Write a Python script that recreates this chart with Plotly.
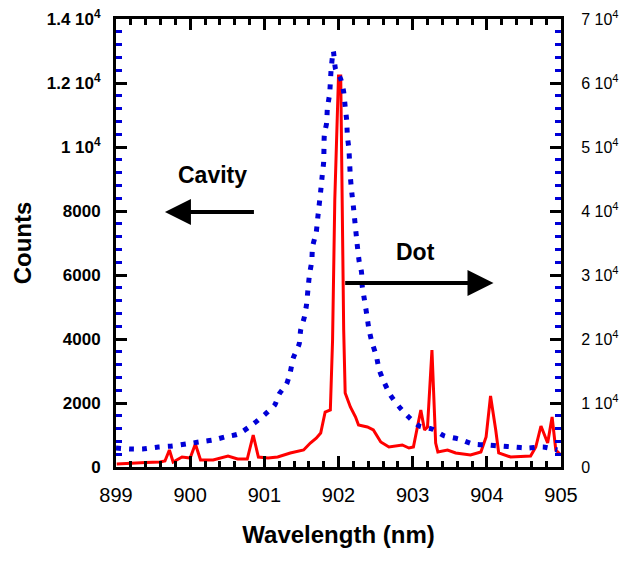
import plotly.graph_objects as go

# Cavity spectrum (left axis, counts)
cavity_wl = [899.0, 899.19, 899.36, 899.57, 899.76, 899.95, 900.12, 900.31, 900.47, 900.65,
             900.85, 901.00, 901.14, 901.20, 901.30, 901.35, 901.39, 901.47, 901.49, 901.54,
             901.57, 901.59, 901.61, 901.64, 901.65, 901.70, 901.72, 901.76, 901.78, 901.80,
             901.81, 901.84, 901.85, 901.88, 901.90, 901.93,
             901.96, 902.03, 902.07, 902.09, 902.11, 902.12, 902.14, 902.15, 902.16, 902.18,
             902.20, 902.22, 902.25, 902.28, 902.31, 902.32, 902.35, 902.38, 902.41, 902.45,
             902.51, 902.55, 902.62, 902.70, 902.82, 902.96, 903.09, 903.26, 903.43, 903.62,
             903.81, 904.00, 904.19, 904.36, 904.55, 904.76, 904.95]
cavity_counts = [594, 562, 562, 625, 656, 719, 781, 844, 938, 1031,
                 1344, 1625, 1937, 2281, 2594, 2969, 3406, 3844, 4281, 4688,
                 5094, 5594, 6031, 6438, 6875, 7344, 7781, 8625, 9094, 9531,
                 10406, 10750, 11219, 11656, 12400, 13000,
                 12437, 12125, 11719, 11250, 10844, 10344, 9937, 9500, 9062, 8562,
                 8156, 7687, 7000, 6406, 6094, 5656, 5219, 4781, 4312, 3906,
                 3469, 3031, 2625, 2250, 1875, 1531, 1281, 1187, 969, 875,
                 719, 687, 656, 625, 594, 625, 531]

# Dot spectrum (right axis, counts)
dot_wl = [899.01, 899.19, 899.40, 899.59, 899.66, 899.72, 899.77, 899.89, 900.00, 900.07, 900.14,
          900.31, 900.51, 900.64, 900.77, 900.85, 900.92, 901.05, 901.18, 901.35, 901.53, 901.62,
          901.70, 901.76, 901.82, 901.89, 901.92, 901.95, 901.99, 902.00, 902.03, 902.04, 902.05,
          902.07, 902.09, 902.16, 902.23, 902.27, 902.33, 902.39, 902.47, 902.57, 902.68, 902.86,
          902.95, 903.01, 903.11, 903.16, 903.20, 903.26, 903.31, 903.34, 903.47, 903.58,
          903.78, 903.92, 903.99, 904.05, 904.12, 904.16, 904.32, 904.59, 904.66, 904.73,
          904.82, 904.88, 904.93, 905.00]
dot_counts = [469, 625, 700, 781, 937, 2656, 781, 1562, 1406, 3594, 1094,
              1094, 1719, 1250, 1250, 5000, 1562, 1400, 1562, 2187, 2656, 3750,
              4500, 5312, 8594, 8906, 19844, 41719, 57344, 61094, 61094, 49531, 33906,
              21406, 11562, 9375, 7812, 6562, 6400, 6250, 5781, 3906, 3125, 3437,
              2969, 3125, 8906, 5781, 6250, 18281, 3750, 2344, 2656, 2187,
              1875, 2344, 4687, 11094, 5781, 2187, 1562, 1719, 3125, 6406,
              3750, 7812, 2656, 1875]

left_tickvals = [0, 2000, 4000, 6000, 8000, 10000, 12000, 14000]
left_ticktext = ["0", "2000", "4000", "6000", "8000", "1 10<sup>4</sup>",
                 "1.2 10<sup>4</sup>", "1.4 10<sup>4</sup>"]
right_tickvals = [0, 10000, 20000, 30000, 40000, 50000, 60000, 70000]
right_ticktext = ["0"] + [f"{i} 10<sup>4</sup>" for i in range(1, 8)]
x_tickvals = [899, 900, 901, 902, 903, 904, 905]

FONT = "Liberation Sans, Arial, sans-serif"
BLUE = "rgb(0,0,215)"

fig = go.Figure()
fig.add_trace(go.Scatter(x=dot_wl, y=dot_counts, mode="lines", yaxis="y",
                         line=dict(color="#ff0000", width=3), showlegend=False))
fig.add_trace(go.Scatter(x=cavity_wl, y=cavity_counts, mode="lines", yaxis="y2",
                         line=dict(color=BLUE, width=5, dash="5px,8px", shape="spline", smoothing=0.6),
                         showlegend=False))

# page body has an 8px margin, so the figure is 8px smaller and offset by it
fig.update_layout(
    width=621, height=556,
    margin=dict(l=108, r=68, t=11, b=97, autoexpand=False),
    paper_bgcolor="white", plot_bgcolor="white",
    font=dict(family=FONT, color="black"),
    xaxis=dict(range=[899, 905], tickvals=x_tickvals, ticks="inside", ticklen=11, tickwidth=3,
               tickcolor="black", showline=True, linewidth=3, linecolor="black", mirror="ticks",
               showgrid=False, zeroline=False, tickfont=dict(size=20, family=FONT),
               ticklabelstandoff=8, automargin=False, ticklabeloverflow="allow",
               minor=dict(dtick=0.2, ticks="inside", ticklen=6, tickwidth=3, tickcolor="black", showgrid=False),
               title=dict(text="Wavelength (nm)", font=dict(size=24, family=FONT, weight="bold"), standoff=22)),
    yaxis=dict(range=[0, 70000], side="right", tickvals=right_tickvals, ticktext=right_ticktext,
               ticks="inside", ticklen=11, tickwidth=3, tickcolor="black", showline=True, linewidth=3,
               linecolor="black", showgrid=False, zeroline=False, tickfont=dict(size=16, family=FONT),
               ticklabelstandoff=14, automargin=False, ticklabeloverflow="allow",
               minor=dict(dtick=2000, ticks="inside", ticklen=6, tickwidth=3, tickcolor=BLUE, showgrid=False)),
    yaxis2=dict(range=[0, 14000], side="left", overlaying="y", tickvals=left_tickvals, ticktext=left_ticktext,
                ticks="inside", ticklen=11, tickwidth=3, tickcolor="black", showline=True, linewidth=3,
                linecolor="black", showgrid=False, zeroline=False, automargin=False, ticklabeloverflow="allow",
                tickfont=dict(size=17, family=FONT, weight="bold"), ticklabelstandoff=9,
                minor=dict(dtick=400, ticks="inside", ticklen=6, tickwidth=3, tickcolor=BLUE, showgrid=False),
                title=dict(text="Counts", font=dict(size=24, family=FONT, weight="bold"), standoff=9)),
    annotations=[
        dict(x=900.30, y=9125, xref="x", yref="y2", text="<b>Cavity</b>", showarrow=False,
             font=dict(size=23, family=FONT, color="black")),
        dict(x=903.04, y=6719, xref="x", yref="y2", text="<b>Dot</b>", showarrow=False,
             font=dict(size=23, family=FONT, color="black")),
        dict(x=899.66, y=7969, ax=900.88, ay=7969, xref="x", yref="y2", axref="x", ayref="y2",
             text="", showarrow=True, arrowhead=2, arrowsize=1.3, arrowwidth=4, arrowcolor="black"),
        dict(x=904.09, y=5750, ax=902.07, ay=5750, xref="x", yref="y2", axref="x", ayref="y2",
             text="", showarrow=True, arrowhead=2, arrowsize=1.3, arrowwidth=4, arrowcolor="black"),
    ],
)

fig.write_html("out.html")
